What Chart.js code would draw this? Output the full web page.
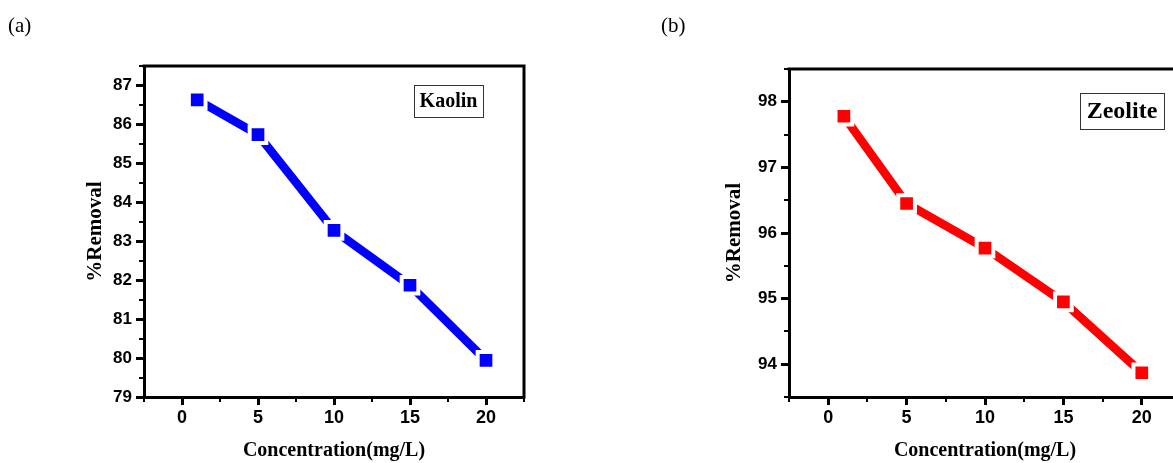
<!DOCTYPE html>
<html>
<head>
<meta charset="utf-8">
<script src="https://cdn.jsdelivr.net/npm/chart.js@4/dist/chart.umd.min.js"></script>
<style>
  html, body { margin: 0; padding: 0; background: #fff; overflow: hidden; }
  #wrapA { position: absolute; left: 0; top: 0; }
  #wrapB { position: absolute; left: 653px; top: 0; }
</style>
</head>
<body>
<div id="wrapA"><canvas id="chartA" width="560" height="463"></canvas></div>
<div id="wrapB"><canvas id="chartB" width="570" height="463"></canvas></div>
<script>
const concentration = [1, 5, 10, 15, 20];
const kaolinRemoval = [86.63, 85.74, 83.28, 81.87, 79.94];
const zeoliteRemoval = [97.78, 96.45, 95.77, 94.95, 93.87];

const xRange = [-2.5, 22.5];
const kaolinRange = [79, 87.5];
const zeoliteRange = [93.5, 98.5];

const SANS = "'Liberation Sans', Arial, sans-serif";
const SERIF = "'Liberation Serif', 'Times New Roman', serif";

const isMajorX = v => v % 5 === 0;
const isMajorY = v => Number.isInteger(v);

// top/right frame, short minor ticks and the boxed material label
const framePlugin = {
  id: 'frame',
  afterDraw(chart, args, opts) {
    const ctx = chart.ctx;
    const a = chart.chartArea;
    const sx = chart.scales.x, sy = chart.scales.y;
    ctx.save();
    ctx.strokeStyle = '#000';
    ctx.lineWidth = 3;
    ctx.beginPath();
    ctx.moveTo(a.left - 1.5, a.top);
    ctx.lineTo(a.right, a.top);
    ctx.lineTo(a.right, a.bottom + 1.5);
    ctx.stroke();

    // minor ticks, half length
    ctx.lineWidth = 2;
    ctx.beginPath();
    sx.ticks.forEach(t => {
      if (isMajorX(t.value)) return;
      const px = Math.round(sx.getPixelForValue(t.value));
      ctx.moveTo(px, a.bottom);
      ctx.lineTo(px, a.bottom + 5);
    });
    sy.ticks.forEach(t => {
      if (isMajorY(t.value)) return;
      const py = Math.round(sy.getPixelForValue(t.value));
      ctx.moveTo(a.left, py);
      ctx.lineTo(a.left - 5, py);
    });
    ctx.stroke();

    const b = opts.box;
    const bx = Math.round(a.right - b.dx), by = Math.round(a.top + b.dy);
    ctx.lineWidth = 1;
    ctx.strokeStyle = '#333';
    ctx.strokeRect(bx + 0.5, by + 0.5, b.w, b.h);
    ctx.fillStyle = '#000';
    ctx.font = 'bold ' + b.size + 'px ' + SERIF;
    ctx.textAlign = 'center';
    ctx.textBaseline = 'middle';
    ctx.fillText(opts.label, bx + b.w / 2, by + b.h / 2 + 1);
    ctx.restore();
  }
};

function makeChart(id, o) {
  return new Chart(document.getElementById(id), {
    type: 'line',
    data: {
      datasets: [{
        label: o.label,
        data: concentration.map((x, i) => ({ x: x, y: o.values[i] })),
        borderColor: o.color,
        backgroundColor: o.color,
        borderWidth: 8.5,
        pointStyle: 'rect',
        pointRadius: 11.8,
        pointHoverRadius: 11.8,
        pointBorderWidth: 4,
        pointBorderColor: '#fff',
        pointBackgroundColor: o.color,
        tension: 0
      }]
    },
    options: {
      responsive: false,
      animation: false,
      devicePixelRatio: 1,
      layout: { padding: { left: 8, right: o.padRight, top: 0, bottom: 0 } },
      plugins: {
        legend: { display: false },
        tooltip: { enabled: false },
        title: {
          display: true,
          text: o.tag,
          align: 'start',
          color: '#000',
          font: { family: SERIF, size: 21, weight: 'normal' },
          padding: { top: 14, bottom: o.top - 25.2 - 14 }
        },
        frame: { label: o.label, box: o.box }
      },
      scales: {
        x: {
          type: 'linear',
          min: xRange[0],
          max: xRange[1],
          afterFit: s => { s.height = 66; },
          border: { color: '#000', width: 3 },
          grid: {
            drawOnChartArea: false,
            color: '#000',
            tickColor: c => (c.tick && isMajorX(c.tick.value)) ? '#000' : 'rgba(0,0,0,0)',
            tickLength: 8,
            tickWidth: 3
          },
          ticks: {
            stepSize: 2.5,
            autoSkip: false,
            maxRotation: 0,
            padding: 2,
            color: '#000',
            font: { family: SANS, size: 18, weight: 'bold' },
            callback: v => isMajorX(v) ? v : ''
          },
          title: {
            display: true,
            text: 'Concentration(mg/L)',
            color: '#000',
            font: { family: SERIF, size: 20, weight: 'bold' },
            padding: { top: 0, bottom: 0 }
          }
        },
        y: {
          min: o.range[0],
          max: o.range[1],
          afterFit: s => { s.width = o.yWidth; },
          border: { color: '#000', width: 3 },
          grid: {
            drawOnChartArea: false,
            color: '#000',
            tickColor: c => (c.tick && isMajorY(c.tick.value)) ? '#000' : 'rgba(0,0,0,0)',
            tickLength: 8,
            tickWidth: 3
          },
          ticks: {
            stepSize: 0.5,
            autoSkip: false,
            padding: 4,
            color: '#000',
            font: { family: SANS, size: 17, weight: 'bold' },
            callback: v => isMajorY(v) ? v : ''
          },
          title: {
            display: true,
            text: '%Removal',
            color: '#000',
            font: { family: SERIF, size: 21, weight: 'bold' },
            padding: { top: o.yTitlePad, bottom: 0 }
          }
        }
      }
    },
    plugins: [framePlugin]
  });
}

makeChart('chartA', {
  tag: '(a)',
  label: 'Kaolin',
  values: kaolinRemoval,
  range: kaolinRange,
  color: '#0000ff',
  top: 66,
  yWidth: 136,
  padRight: 36,
  yTitlePad: 75,
  box: { dx: 110, dy: 19, w: 69, h: 32, size: 20 }
});

makeChart('chartB', {
  tag: '(b)',
  label: 'Zeolite',
  values: zeoliteRemoval,
  range: zeoliteRange,
  color: '#ff0000',
  top: 69,
  yWidth: 128,
  padRight: 42,
  yTitlePad: 61,
  box: { dx: 101, dy: 24, w: 84, h: 36, size: 24 }
});
</script>
</body>
</html>
